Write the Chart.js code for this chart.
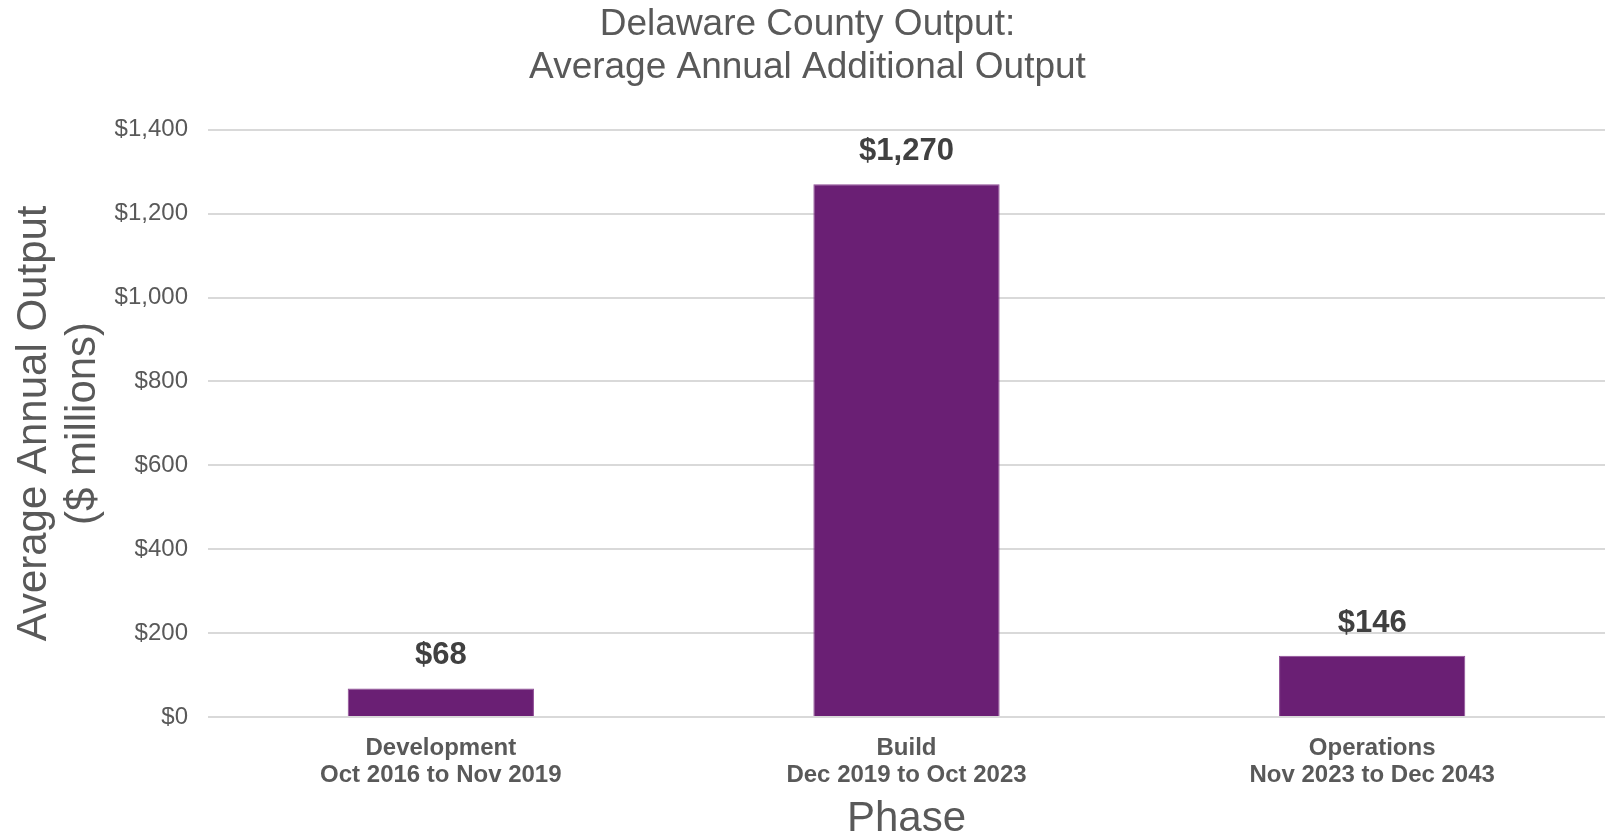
<!DOCTYPE html>
<html>
<head>
<meta charset="utf-8">
<title>Delaware County Output</title>
<script src="https://cdn.jsdelivr.net/npm/chart.js@4.4.1/dist/chart.umd.min.js"></script>
<style>
  html, body { margin: 0; padding: 0; background: #ffffff; }
  #wrap { width: 1608px; height: 838px; }
</style>
</head>
<body>
<div id="wrap"><canvas id="outputChart" width="1608" height="838"></canvas></div>
<script>
// Phases and their date ranges (two-line axis labels)
const phaseNames = ['Development', 'Build', 'Operations'];
const phaseRanges = ['Oct 2016 to Nov 2019', 'Dec 2019 to Oct 2023', 'Nov 2023 to Dec 2043'];

// Average annual additional output, $ millions
const outputValues = [68, 1270, 146];

// Y axis range
const yMin = 0;
const yMax = 1400;
const yStep = 200;

const FONT = '"Liberation Sans", Arial, Helvetica, sans-serif';
const GREY = '#595959';
const PURPLE = '#6a1f74';

const money = v => '$' + Number(v).toLocaleString('en-US');

// Draws the bold value label above each bar
const valueLabels = {
    id: 'valueLabels',
    afterDatasetsDraw(chart) {
        const ctx = chart.ctx;
        const meta = chart.getDatasetMeta(0);
        ctx.save();
        ctx.font = `bold 31px ${FONT}`;
        ctx.fillStyle = '#404040';
        ctx.textAlign = 'center';
        ctx.textBaseline = 'alphabetic';
        meta.data.forEach((bar, i) => {
            ctx.fillText(money(outputValues[i]), bar.x, bar.y - 24);
        });
        ctx.restore();
    }
};

const ctx = document.getElementById('outputChart').getContext('2d');
const chart = new Chart(ctx, {
    type: 'bar',
    data: {
        labels: phaseNames.map((name, i) => [name, phaseRanges[i]]),
        datasets: [{
            data: outputValues,
            backgroundColor: PURPLE,
            borderColor: '#8e4b95',
            borderWidth: 1,
            categoryPercentage: 1,
            barPercentage: 0.4
        }]
    },
    options: {
        responsive: false,
        animation: false,
        devicePixelRatio: 1,
        layout: { padding: { top: 0, right: 3, bottom: 0, left: 10 } },
        plugins: {
            legend: { display: false },
            tooltip: { enabled: false },
            title: {
                display: true,
                text: ['Delaware County Output:', 'Average Annual Additional Output'],
                color: GREY,
                font: { family: FONT, size: 37, weight: 'normal', lineHeight: 1.16 },
                padding: { top: 3, bottom: 41 }
            }
        },
        scales: {
            x: {
                grid: { display: false, drawTicks: false },
                border: { display: false },
                ticks: {
                    color: GREY,
                    padding: 18,
                    font: { family: FONT, size: 24, weight: 'bold', lineHeight: 1.11 }
                },
                title: {
                    display: true,
                    text: 'Phase',
                    color: GREY,
                    font: { family: FONT, size: 42, weight: 'normal', lineHeight: 0.9 },
                    padding: { top: 0, bottom: 0 }
                },
                afterFit(scale) { scale.height = 121; }
            },
            y: {
                min: yMin,
                max: yMax,
                grid: { color: '#d9d9d9', lineWidth: 2, drawTicks: false },
                border: { display: false },
                ticks: {
                    stepSize: yStep,
                    color: GREY,
                    padding: 20,
                    font: { family: FONT, size: 24 },
                    callback: v => money(v)
                },
                title: {
                    display: true,
                    text: ['Average Annual Output', '($ millions)'],
                    color: GREY,
                    font: { family: FONT, size: 42, weight: 'normal', lineHeight: 1.17 },
                    padding: { top: 0, bottom: 0 }
                },
                afterFit(scale) { scale.width = 198; }
            }
        }
    },
    plugins: [valueLabels]
});
</script>
</body>
</html>
